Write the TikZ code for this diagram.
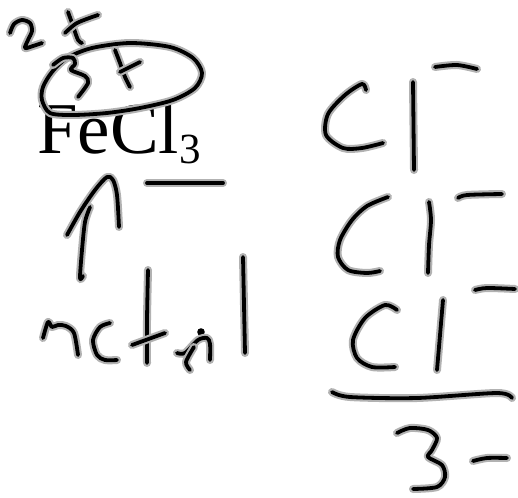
\documentclass[tikz,border=0pt]{standalone}
\usepackage{fontspec}
\setmainfont{Liberation Serif}
\tikzset{
  ink/.style={line width=3.8pt, line cap=round, line join=round, black,
    preaction={draw=gray!60, line width=8pt, line cap=round, line join=round}},
}
\begin{document}
\begin{tikzpicture}[x=1pt,y=-1pt]
\useasboundingbox (0,0) rectangle (518,497);
% "2x" above
\draw[ink] plot[smooth] coordinates {(10,33) (14,24) (22,20) (30,23) (32,31) (28,40) (25,48) (33,46) (42,43)};
\draw[ink] plot[smooth] coordinates {(68,12) (72,23) (78,40) (82,43)};
\draw[ink] plot[smooth] coordinates {(65,33) (77,23) (98,15)};
% formula
\node[anchor=base west, inner sep=0pt] (fecl) at (37,153)
  {\fontsize{73}{73}\selectfont FeCl\raisebox{-10pt}{\fontsize{43}{43}\selectfont 3}};
% ellipse around
\draw[ink] plot[smooth cycle] coordinates {(67,58) (92,48) (130,43) (170,47) (193,58) (202,73) (195,88) (173,100) (140,108) (107,113) (73,115) (50,113) (42,100) (43,87) (52,72)};
% "3x" inside ellipse
\draw[ink] plot[smooth] coordinates {(53,65) (63,58) (73,58) (75,64) (71,70) (85,76) (88,83) (78,97)};
\draw[ink] plot[smooth] coordinates {(115,50) (120,63) (125,77) (130,87)};
\draw[ink] plot[smooth] coordinates {(120,72) (130,67) (140,62)};
% bar
\draw[ink] (147,183) -- (223,183);
% arrow
\draw[ink] plot[smooth] coordinates {(83,276) (80,278) (82,250) (85,222) (90,207)};
\draw[ink] plot[smooth] coordinates {(67,235) (80,212) (95,190) (107,177) (113,180) (117,195) (119,227)};
% "metal"
\draw[ink] plot[smooth] coordinates {(43,338) (48,322) (52,327) (58,325) (66,326) (74,333) (78,355)};
\draw[ink] plot[smooth] coordinates {(110,323) (100,327) (93,340) (97,355) (105,360) (117,360)};
\draw[ink] plot[smooth] coordinates {(148,270) (147,320) (147,363)};
\draw[ink] (132,345) -- (165,333);
\fill (201,332) circle (3.8pt);
\draw[ink] plot[smooth] coordinates {(177,353) (185,353) (198,340) (207,338) (210,344) (210,360)};
\draw[ink] plot[smooth] coordinates {(194,347) (186,362) (190,370)};
\draw[ink] (243,257) -- (245,353);
% Cl 1
\draw[ink] plot[smooth] coordinates {(366,90) (362,84) (345,95) (328,114) (326,135) (343,148) (362,148) (383,143)};
\draw[ink] (413,82) -- (414,170);
\draw[ink] plot[smooth] coordinates {(435,67) (457,65) (477,69)};
% Cl 2
\draw[ink] plot[smooth] coordinates {(388,197) (367,206) (352,220) (340,240) (338,257) (348,270) (367,273) (380,271)};
\draw[ink] plot[smooth] coordinates {(429,202) (431,220) (429,245) (428,273)};
\draw[ink] plot[smooth] coordinates {(458,198) (467,195) (502,194)};
% Cl 3
\draw[ink] plot[smooth] coordinates {(397,310) (385,305) (365,318) (353,340) (357,358) (372,367) (395,367)};
\draw[ink] (443,300) -- (437,370);
\draw[ink] plot[smooth] coordinates {(475,290) (487,288) (515,289)};
% sum line
\draw[ink] plot[smooth] coordinates {(332,392) (350,397) (417,398) (497,393) (512,398)};
% "3-"
\draw[ink] plot[smooth] coordinates {(397,433) (410,428) (428,430) (437,438) (432,450) (428,457) (442,465) (445,477) (437,487) (413,489)};
\draw[ink] plot[smooth] coordinates {(473,461) (487,458) (507,458)};
\end{tikzpicture}
\end{document}
